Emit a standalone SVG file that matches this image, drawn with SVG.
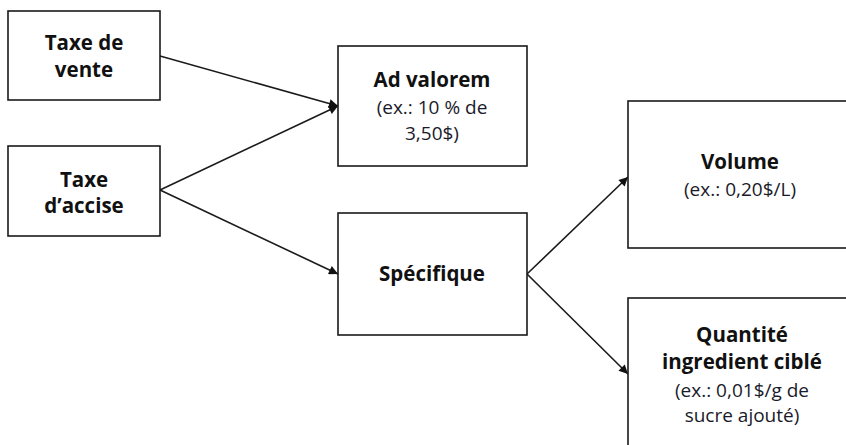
<svg xmlns="http://www.w3.org/2000/svg" width="846" height="445" viewBox="0 0 846 445">
<defs>
<style>
.box{fill:#fff;stroke:#1a1a1a;stroke-width:1.6}
.t{font-family:"Open Sans","Liberation Sans",sans-serif;font-weight:bold;font-size:20.5px;fill:#111;text-anchor:middle}
.s{font-family:"Open Sans","Liberation Sans",sans-serif;font-size:19px;fill:#1a1a2a;text-anchor:middle}
.c{stroke:#1a1a1a;stroke-width:1.6;fill:none;marker-end:url(#ah)}
</style>
<marker id="ah" viewBox="0 0 10 10" refX="10" refY="5" markerWidth="10" markerHeight="9" markerUnits="userSpaceOnUse" orient="auto">
<path d="M0,0 L10,5 L0,10 z" fill="#111"/>
</marker>
</defs>
<rect width="846" height="445" fill="#fff"/>
<g id="connectors">
<line class="c" x1="160" y1="56" x2="338" y2="106"/>
<line class="c" x1="160" y1="190" x2="338" y2="106"/>
<line class="c" x1="160" y1="190" x2="338" y2="274"/>
<line class="c" x1="527" y1="274" x2="628" y2="177"/>
<line class="c" x1="527" y1="274" x2="628" y2="374"/>
</g>
<g id="taxe-vente">
<rect class="box" x="8" y="11" width="152" height="89"/>
<text class="t" x="84" y="50">Taxe de</text>
<text class="t" x="84" y="77">vente</text>
</g>
<g id="taxe-accise">
<rect class="box" x="8" y="146" width="152" height="90"/>
<text class="t" x="84" y="187">Taxe</text>
<text class="t" x="84" y="213">d’accise</text>
</g>
<g id="ad-valorem">
<rect class="box" x="338" y="46" width="189" height="120"/>
<text class="t" x="432" y="87">Ad valorem</text>
<text class="s" x="432" y="114">(ex.: 10 % de</text>
<text class="s" x="432" y="140">3,50$)</text>
</g>
<g id="specifique">
<rect class="box" x="338" y="213" width="189" height="122"/>
<text class="t" x="432" y="281">Spécifique</text>
</g>
<g id="volume">
<rect class="box" x="628" y="101" width="230" height="147"/>
<text class="t" x="740" y="169">Volume</text>
<text class="s" x="740" y="196">(ex.: 0,20$/L)</text>
</g>
<g id="quantite">
<rect class="box" x="628" y="298" width="230" height="160"/>
<text class="t" x="742" y="342">Quantité</text>
<text class="t" x="742" y="369">ingredient ciblé</text>
<text class="s" x="742" y="397">(ex.: 0,01$/g de</text>
<text class="s" x="742" y="422">sucre ajouté)</text>
</g>
</svg>
